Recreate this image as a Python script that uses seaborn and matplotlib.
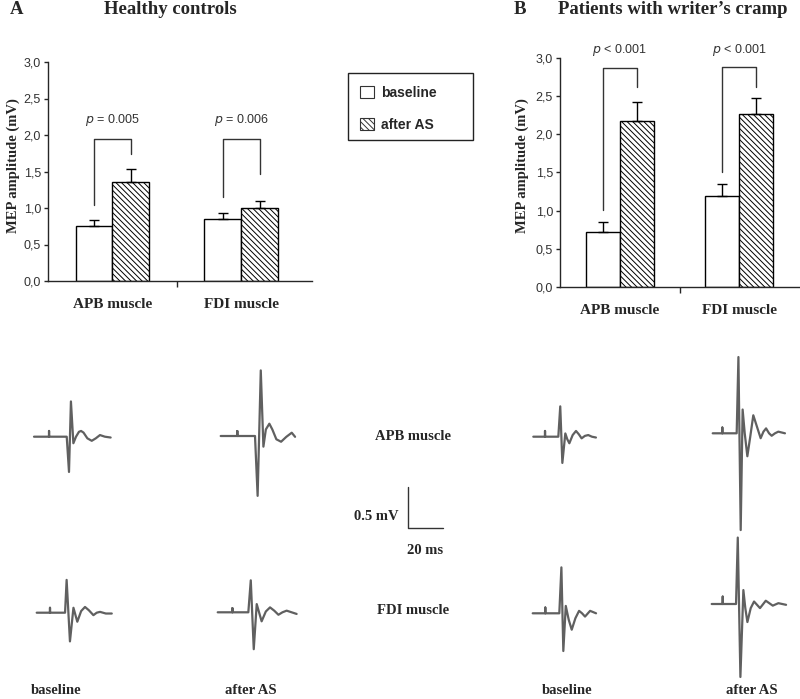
"""MEP amplitudes before/after AS in healthy controls and writer's cramp patients."""

import matplotlib
matplotlib.use("Agg")
import matplotlib.pyplot as plt
from matplotlib.patches import Patch, Rectangle
from matplotlib.ticker import FixedLocator, FuncFormatter
import pandas as pd
import seaborn as sns

sns.set_style("ticks")
plt.rcParams.update({
    "font.family": ["Liberation Serif", "DejaVu Serif"],
    "hatch.linewidth": 0.7,
    "axes.linewidth": 1.0,
})

# ---- bar data (mV) ----
muscles = ["APB muscle", "FDI muscle"]
conditions = ["baseline", "after AS"]

ctrl_baseline = [0.75, 0.85]
ctrl_after = [1.35, 1.00]
ctrl_baseline_err = [0.08, 0.08]
ctrl_after_err = [0.18, 0.10]

wc_baseline = [0.72, 1.19]
wc_after = [2.18, 2.26]
wc_baseline_err = [0.13, 0.16]
wc_after_err = [0.25, 0.21]

# significance brackets: (left foot, right foot, top)
ctrl_pvals = ["= 0.005", "= 0.006"]
ctrl_brackets = [(1.04, 1.74, 1.94), (1.15, 1.47, 1.94)]
wc_pvals = ["< 0.001", "< 0.001"]
wc_brackets = [(1.01, 2.62, 2.87), (1.51, 2.62, 2.88)]

# ---- representative MEP traces (ms, mV) ----
ctrl_apb_base_t = [0, 8.6, 8.6, 8.6, 18.7, 20.0, 21.1, 22.5, 24.0, 25.7, 26.9, 28.3, 30.5, 33.0, 35.3, 37.7, 40.5, 43.8]
ctrl_apb_base_v = [0, 0, 0.07, 0, 0, -0.43, 0.43, -0.08, 0.0, 0.06, 0.07, 0.05, -0.02, -0.05, -0.02, 0.02, 0.0, -0.01]
ctrl_apb_after_t = [0, 9.5, 9.5, 9.5, 19.6, 21.1, 22.9, 24.4, 25.8, 27.8, 29.5, 31.8, 34.5, 37.5, 40.6, 42.5]
ctrl_apb_after_v = [0, 0, 0.06, 0, 0, -0.73, 0.80, -0.13, 0.08, 0.15, 0.08, -0.04, -0.07, -0.01, 0.04, -0.01]
wc_apb_base_t = [0, 6.7, 6.7, 6.7, 14.3, 15.4, 16.6, 18.3, 19.4, 20.6, 22.5, 24.4, 26.0, 27.6, 29.5, 31.4, 33.5, 35.8]
wc_apb_base_v = [0, 0, 0.07, 0, 0, 0.37, -0.32, 0.04, -0.03, -0.08, 0.02, 0.07, 0.03, -0.02, 0.01, 0.02, 0.0, -0.01]
wc_apb_after_t = [0, 5.5, 5.5, 5.5, 13.7, 14.7, 16.0, 17.1, 18.3, 19.8, 21.4, 23.2, 25.3, 27.4, 29.0, 30.5, 32.2, 33.7, 35.6, 37.5, 41.3]
wc_apb_after_v = [0, 0, 0.07, 0, 0, 0.93, -1.18, 0.29, 0.0, -0.28, -0.05, 0.22, 0.08, -0.06, 0.02, 0.06, 0.0, -0.03, 0.0, 0.02, 0.0]
ctrl_fdi_base_t = [0, 7.6, 7.6, 7.6, 16.2, 17.1, 19.0, 21.0, 23.2, 25.4, 27.6, 29.8, 32.4, 34.3, 36.2, 39.5, 42.9]
ctrl_fdi_base_v = [0, 0, 0.06, 0, 0, 0.40, -0.35, 0.06, -0.11, 0.02, 0.07, 0.03, -0.03, 0.0, 0.01, -0.01, -0.01]
ctrl_fdi_after_t = [0, 8.4, 8.4, 8.4, 17.5, 18.9, 20.6, 22.3, 25.1, 27.5, 29.9, 32.3, 34.7, 37.0, 39.4, 45.1]
ctrl_fdi_after_v = [0, 0, 0.05, 0, 0, 0.39, -0.45, 0.10, -0.11, 0.01, 0.06, 0.02, -0.03, 0.0, 0.02, -0.02]
wc_fdi_base_t = [0, 7.2, 7.2, 7.2, 15.2, 16.4, 17.5, 18.9, 20.6, 22.3, 24.4, 26.5, 28.2, 29.9, 32.8, 36.2]
wc_fdi_base_v = [0, 0, 0.07, 0, 0, 0.56, -0.46, 0.09, -0.08, -0.20, -0.06, 0.03, 0.0, -0.04, 0.03, 0.0]
wc_fdi_after_t = [0, 6.3, 6.3, 6.3, 13.9, 14.9, 16.4, 18.1, 19.2, 20.4, 22.3, 24.2, 27.6, 30.9, 34.9, 38.1, 42.5]
wc_fdi_after_v = [0, 0, 0.09, 0, 0, 0.81, -0.89, 0.17, -0.05, -0.22, -0.05, 0.03, -0.05, 0.04, -0.02, 0.01, -0.01]

# layout of the traces (trace start, in figure pixels)
W, H = 800, 699
PX_PER_MS, PX_PER_MV = 1.75, 82.0
traces = {
    "ctrl_apb_base": (ctrl_apb_base_t, ctrl_apb_base_v, (34, 436.7)),
    "ctrl_apb_after": (ctrl_apb_after_t, ctrl_apb_after_v, (220.7, 436)),
    "wc_apb_base": (wc_apb_base_t, wc_apb_base_v, (533.3, 436.7)),
    "wc_apb_after": (wc_apb_after_t, wc_apb_after_v, (712.7, 433.3)),
    "ctrl_fdi_base": (ctrl_fdi_base_t, ctrl_fdi_base_v, (36.7, 612.7)),
    "ctrl_fdi_after": (ctrl_fdi_after_t, ctrl_fdi_after_v, (217.7, 612.3)),
    "wc_fdi_base": (wc_fdi_base_t, wc_fdi_base_v, (532.7, 613.3)),
    "wc_fdi_after": (wc_fdi_after_t, wc_fdi_after_v, (711.7, 604)),
}

HATCH = "\\\\\\\\\\\\"
SANS = ["Liberation Sans", "DejaVu Sans"]


def fx(px):
    return px / W


def fy(py):
    return 1 - py / H


def draw_bars(ax, baseline, after, base_err, after_err, pvals, brackets, p_y, xlim):
    df = pd.DataFrame({
        "muscle": muscles * 2,
        "condition": ["baseline"] * 2 + ["after AS"] * 2,
        "amp": baseline + after,
    })
    sns.barplot(data=df, x="muscle", y="amp", hue="condition", order=muscles,
                hue_order=conditions, palette=["white", "white"], saturation=1,
                edgecolor="black", linewidth=1, width=0.57, gap=0,
                errorbar=None, legend=False, ax=ax)
    for bar in ax.containers[1]:
        bar.set_hatch(HATCH)

    centers = []
    for cont, errs in zip(ax.containers, [base_err, after_err]):
        xs = [b.get_x() + b.get_width() / 2 for b in cont]
        ys = [b.get_height() for b in cont]
        ax.errorbar(xs, ys, yerr=[[0] * len(errs), errs], fmt="none",
                    ecolor="black", elinewidth=1, capsize=3.5, capthick=1, zorder=3)
        centers.append(xs)

    for i, (p, (lo_l, lo_r, top)) in enumerate(zip(pvals, brackets)):
        xl, xr = centers[0][i], centers[1][i]
        ax.plot([xl, xl, xr, xr], [lo_l, top, top, lo_r], color="#333333", lw=1,
                clip_on=False)
        ax.text((xl + xr) / 2, p_y, r"$\it{p}$ " + p, ha="center", va="center",
                fontsize=9, color="#333333", family=SANS, clip_on=False)

    ax.set_xlim(*xlim)
    ax.set_ylim(0, 3.0)
    ax.yaxis.set_major_locator(FixedLocator([0, 0.5, 1.0, 1.5, 2.0, 2.5, 3.0]))
    ax.yaxis.set_major_formatter(FuncFormatter(lambda v, _: f"{v:.1f}".replace(".", ",")))
    ax.xaxis.set_minor_locator(FixedLocator([0.5]))
    ax.tick_params(axis="y", length=3, width=1, pad=2, labelsize=9, labelcolor="#333333")
    for lab in ax.get_yticklabels():
        lab.set_family(SANS)
    ax.tick_params(axis="x", which="major", length=0, pad=12, labelsize=11)
    ax.tick_params(axis="x", which="minor", length=4, width=1)
    for lab in ax.get_xticklabels():
        lab.set_fontweight("bold")
    ax.set_xlabel("")
    ax.set_ylabel("MEP amplitude (mV)", fontsize=10.5, fontweight="bold")
    ax.set_facecolor("none")
    sns.despine(ax=ax)


fig = plt.figure(figsize=(8, 6.99), dpi=100)

# ---- lower section: traces ----
ax_tr = fig.add_axes([0, 0, 1, 1], zorder=0)
rows = []
for name, (t, v, (px, py)) in traces.items():
    t0, v0 = px / PX_PER_MS, (H - py) / PX_PER_MV
    for ti, vi in zip(t, v):
        rows.append({"trace": name, "t": t0 + ti, "v": v0 + vi})
tr_df = pd.DataFrame(rows)
sns.lineplot(data=tr_df, x="t", y="v", units="trace", estimator=None, sort=False,
             color="#606060", lw=1.6, legend=False, ax=ax_tr)
ax_tr.set_xlim(0, W / PX_PER_MS)
ax_tr.set_ylim(0, H / PX_PER_MV)
ax_tr.axis("off")

# scale bar: 0.5 mV / 20 ms
sb_t, sb_v = 408 / PX_PER_MS, (H - 528) / PX_PER_MV
ax_tr.plot([sb_t, sb_t, sb_t + 20], [sb_v + 0.5, sb_v, sb_v], color="#333333", lw=1)

bold = dict(fontweight="bold", ha="center", va="center")
fig.text(fx(399), fy(517), "0.5 mV", fontsize=10.5, fontweight="bold", ha="right", va="center")
fig.text(fx(425), fy(550), "20 ms", fontsize=10.5, **bold)
fig.text(fx(413), fy(436), "APB muscle", fontsize=10.5, **bold)
fig.text(fx(413), fy(611), "FDI muscle", fontsize=10.5, **bold)
for x, lab in zip([56, 251, 567, 752], ["baseline", "after AS", "baseline", "after AS"]):
    fig.text(fx(x), fy(690), lab, fontsize=10.5, **bold)

# ---- panel A ----
ax_a = fig.add_axes([fx(48), fy(281), (312 - 48) / W, (281 - 62) / H], zorder=1)
draw_bars(ax_a, ctrl_baseline, ctrl_after, ctrl_baseline_err, ctrl_after_err,
          ctrl_pvals, ctrl_brackets, 2.2, (-0.5, 1.55))
ax_a.yaxis.set_label_coords(-0.105, 0.525)

# ---- panel B ----
ax_b = fig.add_axes([fx(560), fy(287), (799 - 560) / W, (287 - 58) / H], zorder=1)
draw_bars(ax_b, wc_baseline, wc_after, wc_baseline_err, wc_after_err,
          wc_pvals, wc_brackets, 3.1, (-0.5, 1.5))
ax_b.yaxis.set_label_coords(-0.13, 0.53)

# titles
fig.text(fx(10), fy(9), "A", fontsize=13.5, fontweight="bold", ha="left", va="center")
fig.text(fx(170), fy(9), "Healthy controls", fontsize=13.5, **bold)
fig.text(fx(514), fy(9), "B", fontsize=13.5, fontweight="bold", ha="left", va="center")
fig.text(fx(673), fy(9), "Patients with writer\u2019s cramp", fontsize=13.5, **bold)

# legend
fig.patches.append(Rectangle((fx(348), fy(140)), (473 - 348) / W, (140 - 73) / H,
                             transform=fig.transFigure, fill=False,
                             edgecolor="#222222", lw=1, figure=fig))
handles = [Patch(facecolor="white", edgecolor="#333333", lw=0.8),
           Patch(facecolor="white", edgecolor="#333333", lw=0.8, hatch=HATCH)]
fig.legend(handles, conditions, loc="upper left", bbox_to_anchor=(fx(350), fy(76)),
           frameon=False, handlelength=1.0, handleheight=1.0, handletextpad=0.5,
           labelspacing=1.3, borderpad=0.2,
           prop={"family": SANS, "weight": "bold", "size": 10})

fig.savefig("out.png", dpi=100)
